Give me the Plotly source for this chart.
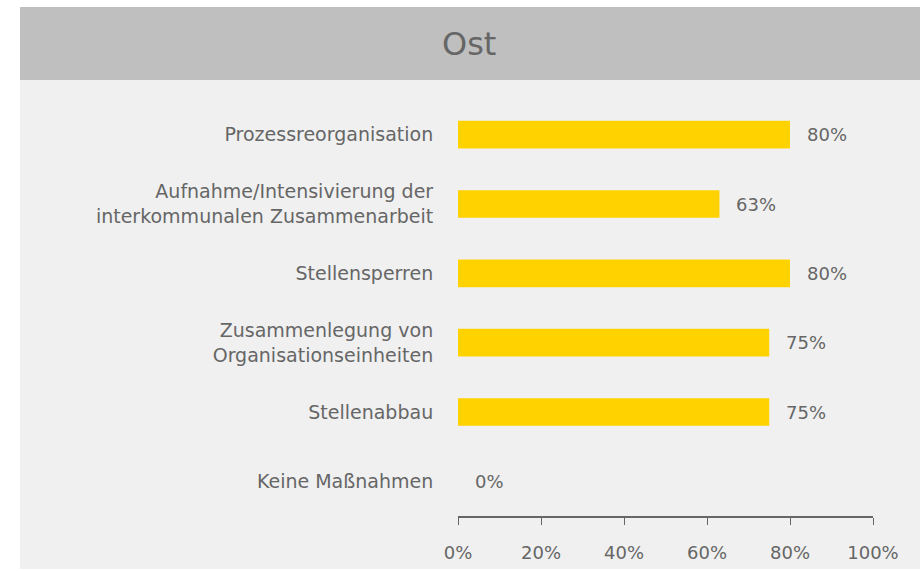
import plotly.graph_objects as go

categories = [
    "Prozessreorganisation",
    "Aufnahme/Intensivierung der<br>interkommunalen Zusammenarbeit",
    "Stellensperren",
    "Zusammenlegung von<br>Organisationseinheiten",
    "Stellenabbau",
    "Keine Maßnahmen",
]
values = [80, 63, 80, 75, 75, 0]
value_labels = ["80%", "63%", "80%", "75%", "75%", "0%"]
tick_vals = [0, 20, 40, 60, 80, 100]
tick_text = ["0%", "20%", "40%", "60%", "80%", "100%"]
title_text = "Ost"

FONT = "DejaVu Sans"
TXT = "#666666"

W, H = 920, 571
L, R, T, B = 458, 47, 100, 55
pw, ph = W - L - R, H - T - B

def px_x(p):
    return (p - L) / pw

def px_y(p):
    return (H - B - p) / ph

fig = go.Figure()
fig.add_trace(go.Bar(
    y=categories, x=values, orientation="h",
    marker=dict(color="#FFD200", line=dict(width=0)),
    width=0.4, hoverinfo="skip",
))

annotations = []
for c, v, t in zip(categories, values, value_labels):
    annotations.append(dict(x=v, y=c, xref="x", yref="y", text=t, showarrow=False,
                            xanchor="left", xshift=15, font=dict(size=18, color=TXT, family=FONT)))
annotations.append(dict(x=px_x(469), y=px_y(44), xref="paper", yref="paper", text=title_text,
                        showarrow=False, xanchor="center", yanchor="middle",
                        font=dict(size=32, color=TXT, family=FONT)))

shapes = [
    dict(type="rect", xref="paper", yref="paper", x0=px_x(20), x1=px_x(925), y0=px_y(569), y1=px_y(80),
         fillcolor="#f0f0f0", line=dict(width=0), layer="below"),
    dict(type="rect", xref="paper", yref="paper", x0=px_x(20), x1=px_x(925), y0=px_y(80), y1=px_y(7),
         fillcolor="#bfbfbf", line=dict(width=0), layer="below"),
]

fig.update_layout(
    width=W, height=H,
    margin=dict(l=L, r=R, t=T, b=B, pad=0, autoexpand=False),
    paper_bgcolor="white", plot_bgcolor="rgba(0,0,0,0)",
    showlegend=False, bargap=0.6,
    annotations=annotations, shapes=shapes,
    font=dict(family=FONT, color=TXT, size=18),
    xaxis=dict(range=[0, 100], tickvals=tick_vals, ticktext=tick_text, showgrid=False, zeroline=False,
               showline=True, linecolor="#666666", linewidth=2, ticks="outside", ticklen=7,
               tickcolor="#666666", tickwidth=1, ticklabelstandoff=12, automargin=False,
               tickfont=dict(size=18, color=TXT, family=FONT), fixedrange=True),
    yaxis=dict(autorange="reversed", showgrid=False, zeroline=False, showline=False,
               ticks="outside", ticklen=20, tickcolor="rgba(0,0,0,0)", automargin=False,
               tickfont=dict(size=19, color=TXT, family=FONT), fixedrange=True),
)

post = (
    "document.documentElement.style.margin='0';"
    "document.body.style.margin='0';"
    "document.documentElement.style.overflow='hidden';"
    "document.body.style.overflow='hidden';"
)
fig.write_html("out.html", config={"displayModeBar": False}, post_script=post)
